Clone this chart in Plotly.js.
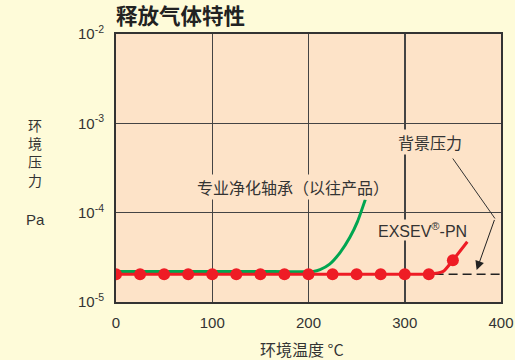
<!DOCTYPE html>
<html>
<head>
<meta charset="utf-8">
<script src="https://cdn.plot.ly/plotly-3.0.1.min.js"></script>
<style>html,body{margin:0;padding:0;background:#fefbd9;}</style>
</head>
<body>
<div id="chart" style="width:515px;height:360px;"></div>
<script>
// Data
const redMarkX = [0, 25, 50, 75, 100, 125, 150, 175, 200, 225, 250, 275, 300, 325, 350];
const redMarkY = [2.05e-5, 2.05e-5, 2.05e-5, 2.05e-5, 2.05e-5, 2.05e-5, 2.05e-5, 2.05e-5, 2.05e-5, 2.05e-5, 2.05e-5, 2.05e-5, 2.05e-5, 2.05e-5, 2.94e-5];
const redLineX = [0, 25, 50, 75, 100, 125, 150, 175, 200, 225, 250, 275, 300, 325, 340, 350, 365];
const redLineY = [2.05e-5, 2.05e-5, 2.05e-5, 2.05e-5, 2.05e-5, 2.05e-5, 2.05e-5, 2.05e-5, 2.05e-5, 2.05e-5, 2.05e-5, 2.05e-5, 2.05e-5, 2.05e-5, 2.2e-5, 2.94e-5, 4.72e-5];
const greenX = [0, 50, 100, 150, 205, 212, 222, 233, 243, 251, 259];
const greenY = [2.2e-5, 2.2e-5, 2.2e-5, 2.2e-5, 2.2e-5, 2.3e-5, 2.65e-5, 3.6e-5, 5.3e-5, 8e-5, 1.4e-4];
const bgX = [331, 400];
const bgY = [2.05e-5, 2.05e-5];
const yTickVals = [1e-5, 1e-4, 1e-3, 1e-2];
const yTickText = ['10<sup>-5</sup>', '10<sup>-4</sup>', '10<sup>-3</sup>', '10<sup>-2</sup>'];
const xTickVals = [0, 100, 200, 300, 400];

const PLOTBG = '#fde3c8';
const LATIN = 'Liberation Sans, Arial, Noto Sans CJK SC, sans-serif';
const CJK = 'Noto Sans CJK SC, Liberation Sans, sans-serif';

const traces = [
  {x: greenX, y: greenY, type: 'scatter', mode: 'lines',
   line: {color: '#00a651', width: 3, shape: 'spline', smoothing: 0.6}, hoverinfo: 'skip'},
  {x: bgX, y: bgY, type: 'scatter', mode: 'lines',
   line: {color: '#222', width: 1.5, dash: '9px,5px'}, hoverinfo: 'skip'},
  {x: redLineX, y: redLineY, type: 'scatter', mode: 'lines',
   line: {color: '#ee1c25', width: 3, shape: 'spline', smoothing: 0.6}, hoverinfo: 'skip'},
  {x: redMarkX, y: redMarkY, type: 'scatter', mode: 'markers',
   marker: {color: '#ee1c25', size: 12}, hoverinfo: 'skip'}
];

const layout = {
  width: 515, height: 360,
  margin: {l: 116, r: 14, t: 34, b: 58},
  paper_bgcolor: '#fefbd9',
  plot_bgcolor: PLOTBG,
  showlegend: false,
  font: {family: LATIN, color: '#333'},
  title: {text: '<b>释放气体特性</b>', font: {family: CJK, size: 21.5, color: '#222'},
          xref: 'paper', x: 0, xanchor: 'left', yref: 'container', y: 0.953, yanchor: 'middle'},
  xaxis: {range: [0, 400], tickvals: xTickVals, showgrid: true, gridcolor: '#444', gridwidth: 1.5,
          zeroline: false, showline: true, mirror: true, linecolor: '#333', linewidth: 2,
          ticks: '', ticklabelstandoff: 6, tickfont: {size: 15, color: '#333', family: LATIN}},
  yaxis: {type: 'log', range: [-5, -2], tickvals: yTickVals, ticktext: yTickText,
          showgrid: true, gridcolor: '#444', gridwidth: 1.5, zeroline: false,
          showline: true, mirror: true, linecolor: '#333', linewidth: 2,
          ticks: '', ticklabelstandoff: 7, tickfont: {size: 15, color: '#333', family: LATIN}},
  annotations: [
    {text: '专业净化轴承（以往产品）', x: 183.6, y: -3.712, xref: 'x', yref: 'y', showarrow: false,
     xanchor: 'center', yanchor: 'middle', font: {family: CJK, size: 16, color: '#333'},
     bgcolor: PLOTBG, borderpad: 0},
    {text: '背景压力', x: 326.2, y: -3.209, xref: 'x', yref: 'y', showarrow: false,
     xanchor: 'center', yanchor: 'middle', font: {family: CJK, size: 16, color: '#333'},
     bgcolor: PLOTBG, borderpad: 0},
    {text: 'EXSEV<sup>®</sup>-PN', x: 318.5, y: -4.196, xref: 'x', yref: 'y', showarrow: false,
     xanchor: 'center', yanchor: 'middle', font: {family: LATIN, size: 16, color: '#333'},
     bgcolor: PLOTBG, borderpad: 0},
    {text: '', x: 393.7, y: -4.065, ax: 348.8, ay: -3.377, xref: 'x', yref: 'y', axref: 'x', ayref: 'y',
     showarrow: true, arrowhead: 0, arrowwidth: 1, arrowcolor: '#333', standoff: 0, startstandoff: 0},
    {text: '', x: 374.7, y: -4.642, ax: 393.7, ay: -4.065, xref: 'x', yref: 'y', axref: 'x', ayref: 'y',
     showarrow: true, arrowhead: 2, arrowsize: 1.8, arrowwidth: 1, arrowcolor: '#222', standoff: 0, startstandoff: 0},
    {text: '环<br>境<br>压<br>力', x: -0.21, y: 0.558, xref: 'paper', yref: 'paper', showarrow: false,
     xanchor: 'center', yanchor: 'middle', font: {family: CJK, size: 14, color: '#333'}},
    {text: 'Pa', x: -0.21, y: 0.306, xref: 'paper', yref: 'paper', showarrow: false,
     xanchor: 'center', yanchor: 'middle', font: {family: LATIN, size: 15, color: '#333'}},
    {text: '环境温度 °C', x: 0.483, y: -0.175, xref: 'paper', yref: 'paper', showarrow: false,
     xanchor: 'center', yanchor: 'middle', font: {family: CJK, size: 16, color: '#333'}}
  ]
};

Plotly.newPlot('chart', traces, layout, {displayModeBar: false, staticPlot: true});
</script>
</body>
</html>
